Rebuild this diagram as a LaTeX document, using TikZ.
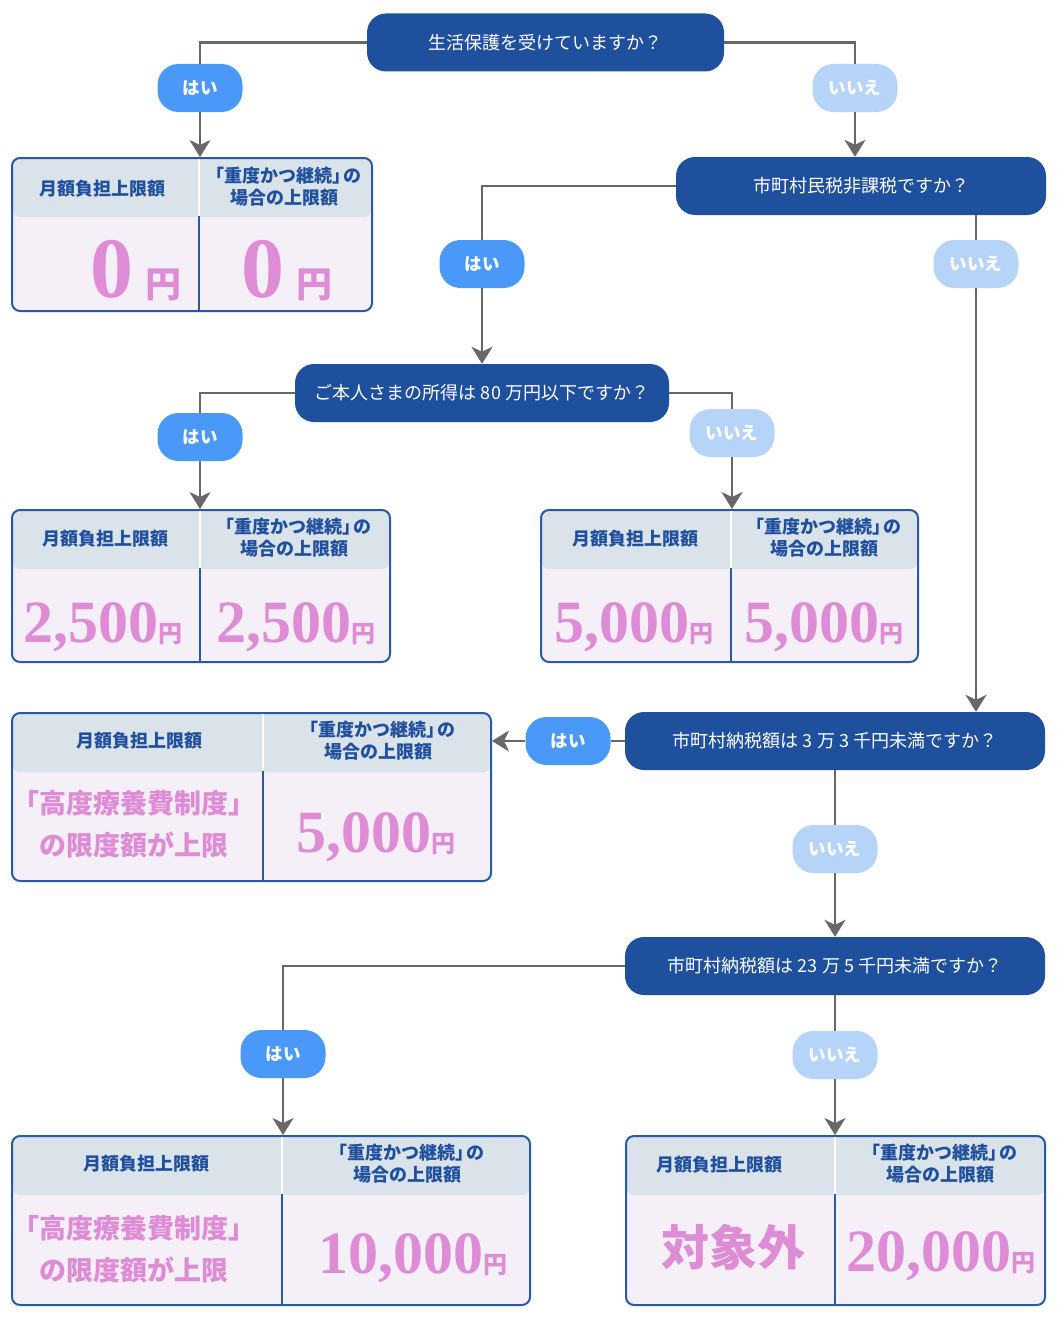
\documentclass[tikz,border=0pt]{standalone}
\usepackage{fontspec}
\setmainfont{Noto Sans CJK JP}
\newfontfamily\jpfont{Noto Sans CJK JP}
\newfontfamily\numfont{Liberation Serif}
\usepackage{xcolor}
\usepackage{tikz}
\usetikzlibrary{arrows.meta}

\definecolor{qblue}{RGB}{31,80,157}
\definecolor{yesblue}{RGB}{74,153,249}
\definecolor{nolight}{RGB}{182,211,248}
\definecolor{tabline}{RGB}{40,90,168}
\definecolor{headbg}{RGB}{218,226,234}
\definecolor{bodybg}{RGB}{245,239,247}
\definecolor{valpink}{RGB}{222,140,214}
\definecolor{linegray}{RGB}{104,104,104}

\newcommand{\yenmark}[1]{{\jpfont\bfseries\fontsize{#1}{#1}\selectfont 円}}
\newcommand{\severehead}{「重度かつ継続」\kern-0.4em の\\場合の上限額}

\tikzset{
    question/.style={fill=qblue, text=white, rounded corners=19pt, minimum height=58pt,
        inner sep=0pt, font=\fontsize{18}{22}\selectfont},
    yeslab/.style={fill=yesblue, text=white, rounded corners=21pt, minimum width=85pt,
        minimum height=48pt, inner sep=0pt, font=\bfseries\fontsize{17.5}{20}\selectfont},
    nolab/.style={yeslab, fill=nolight},
    restable/.style={draw=tabline, line width=2pt, fill=bodybg, rounded corners=8pt,
        anchor=north west, inner sep=0pt,
        path picture={\fill[headbg] (path picture bounding box.north west)
            rectangle ([yshift=-59pt]path picture bounding box.north east);}},
    headtext/.style={text=qblue, align=center, inner sep=0pt,
        font=\bfseries\fontsize{18}{22}\selectfont},
    value/.style={text=valpink, anchor=base, inner sep=0pt,
        font=\numfont\bfseries\fontsize{60}{60}\selectfont},
    limitnote/.style={text=valpink, align=center, inner sep=0pt,
        font=\bfseries\fontsize{27}{42}\selectfont},
    link/.style={draw=linegray, line width=2.5pt},
    flow/.style={link, -{Stealth[length=17pt,width=21pt,inset=5pt]}}
}

\begin{document}
\begin{tikzpicture}[x=1pt, y=-1pt]
    \useasboundingbox[fill=white] (0,0) rectangle (1057,1322);

    % result tables
    \node[restable, minimum width=360pt, minimum height=153pt] (r1) at (11,157) {};
    \node[restable, minimum width=378pt, minimum height=152pt] (r2) at (11,509) {};
    \node[restable, minimum width=377pt, minimum height=152pt] (r3) at (540,509) {};
    \node[restable, minimum width=479pt, minimum height=168pt] (r4) at (11,712) {};
    \node[restable, minimum width=518pt, minimum height=169pt] (r5) at (11,1135) {};
    \node[restable, minimum width=419pt, minimum height=169pt] (r6) at (625,1135) {};

    \foreach \t/\s in {r1/188, r2/189, r3/191, r4/252, r5/271, r6/210} {
        \draw[white, line width=2pt] ([xshift=\s pt, yshift=-1.5pt]\t.north west)
            -- ([xshift=\s pt, yshift=-59pt]\t.north west);
        \draw[tabline, line width=2.5pt] ([xshift=\s pt, yshift=-59pt]\t.north west)
            -- ([xshift=\s pt]\t.south west);
    }

    % table headers
    \node[headtext] (h1a) at (102,189) {月額負担上限額};
    \node[headtext] (h1b) at (284,187) {\severehead};
    \node[headtext] (h2a) at (105,539) {月額負担上限額};
    \node[headtext] (h2b) at (294,538) {\severehead};
    \node[headtext] (h3a) at (635,539) {月額負担上限額};
    \node[headtext] (h3b) at (824,538) {\severehead};
    \node[headtext] (h4a) at (139,741) {月額負担上限額};
    \node[headtext] (h4b) at (378,741) {\severehead};
    \node[headtext] (h5a) at (146,1164) {月額負担上限額};
    \node[headtext] (h5b) at (407,1164) {\severehead};
    \node[headtext] (h6a) at (719,1165) {月額負担上限額};
    \node[headtext] (h6b) at (940,1164) {\severehead};

    % amounts
    \node[value, font=\numfont\bfseries\fontsize{86}{86}\selectfont] (v1a) at (136,297) {0\hspace{12pt}\yenmark{36}};
    \node[value, font=\numfont\bfseries\fontsize{86}{86}\selectfont] (v1b) at (287,297) {0\hspace{12pt}\yenmark{36}};
    \node[value] (v2a) at (103,642) {2,500\yenmark{24}};
    \node[value] (v2b) at (296,642) {2,500\yenmark{24}};
    \node[value] (v3a) at (634,642) {5,000\yenmark{24}};
    \node[value] (v3b) at (824,642) {5,000\yenmark{24}};
    \node[limitnote] (n4) at (134,824) {「高度療養費制度」\\の限度額が上限};
    \node[value] (v4b) at (376,852) {5,000\yenmark{24}};
    \node[limitnote] (n5) at (134,1249) {「高度療養費制度」\\の限度額が上限};
    \node[value] (v5b) at (413,1273) {10,000\yenmark{24}};
    \node[limitnote, font=\bfseries\fontsize{48}{48}\selectfont] (n6) at (733,1247) {対象外};
    \node[value] (v6b) at (941,1271) {20,000\yenmark{24}};

    % questions
    \node[question, minimum width=357pt] (q1) at (545.5,42.5) {生活保護を受けていますか？};
    \node[question, minimum width=370pt] (q2) at (861,186) {市町村民税非課税ですか？};
    \node[question, minimum width=374pt] (q3) at (482,393) {ご本人さまの所得は 80 万円以下ですか？};
    \node[question, minimum width=420pt] (q4) at (835,741) {市町村納税額は 3 万 3 千円未満ですか？};
    \node[question, minimum width=420pt] (q5) at (835,966) {市町村納税額は 23 万 5 千円未満ですか？};

    % answers
    \node[yeslab] (yes1) at (200,88) {はい};
    \node[nolab] (no1) at (855,88) {いいえ};
    \node[yeslab] (yes2) at (482,264) {はい};
    \node[nolab] (no2) at (976,264) {いいえ};
    \node[yeslab] (yes3) at (200,437) {はい};
    \node[nolab] (no3) at (732,433) {いいえ};
    \node[yeslab] (yes4) at (568,741) {はい};
    \node[nolab] (no4) at (835,849) {いいえ};
    \node[yeslab] (yes5) at (283,1054) {はい};
    \node[nolab] (no5) at (835,1055) {いいえ};

    % connectors
    \draw[link] (q1.west) -| (yes1.north);
    \draw[flow] (yes1.south) -- (yes1.south |- r1.north);
    \draw[link] (q1.east) -| (no1.north);
    \draw[flow] (no1.south) -- (no1.south |- q2.north);
    \draw[link] (q2.west) -| (yes2.north);
    \draw[flow] (yes2.south) -- (yes2.south |- q3.north);
    \draw[link] (no2.north |- q2.south) -- (no2.north);
    \draw[flow] (no2.south) -- (no2.south |- q4.north);
    \draw[link] (q3.west) -| (yes3.north);
    \draw[flow] (yes3.south) -- (yes3.south |- r2.north);
    \draw[link] (q3.east) -| (no3.north);
    \draw[flow] (no3.south) -- (no3.south |- r3.north);
    \draw[link] (q4.west) -- (yes4.east);
    \draw[flow] (yes4.west) -- (yes4.west -| r4.east);
    \draw[link] (q4.south) -- (no4.north);
    \draw[flow] (no4.south) -- (q5.north);
    \draw[link] (q5.west) -| (yes5.north);
    \draw[flow] (yes5.south) -- (yes5.south |- r5.north);
    \draw[link] (q5.south) -- (no5.north);
    \draw[flow] (no5.south) -- (no5.south |- r6.north);
\end{tikzpicture}
\end{document}
